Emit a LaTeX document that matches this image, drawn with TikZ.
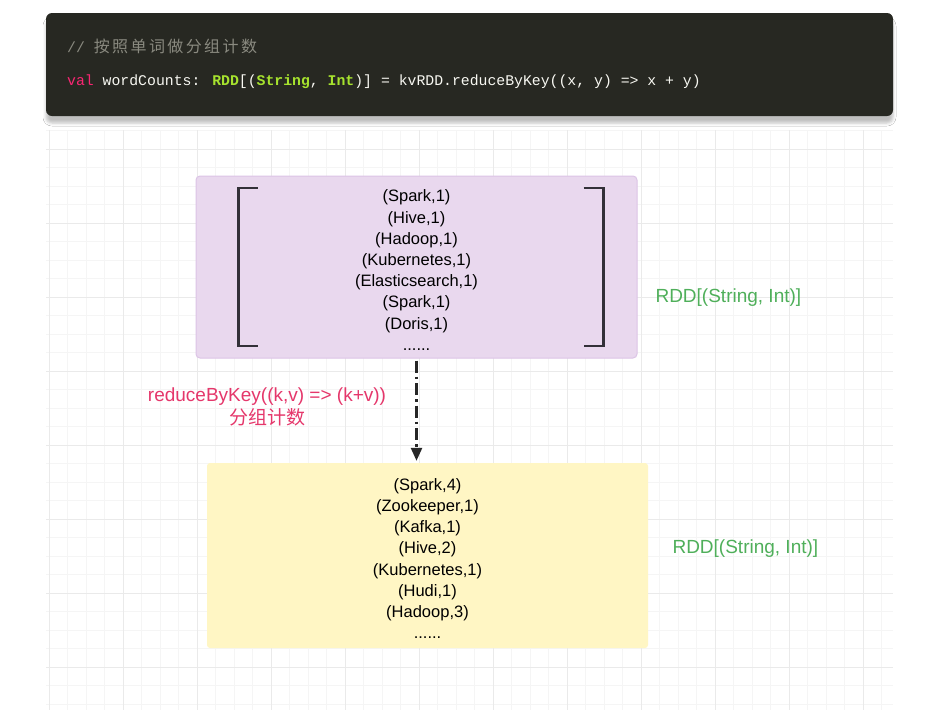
\documentclass[tikz,border=0pt]{standalone}
\usepackage{fontspec}
\setmainfont{Liberation Sans}
\newfontfamily\codefont{Liberation Mono}
\newfontfamily\cjk{Noto Sans CJK SC}
\usetikzlibrary{calc,arrows.meta,shadows.blur}

\definecolor{codebg}{HTML}{272822}
\definecolor{codefg}{HTML}{F8F8F2}
\definecolor{codecomment}{HTML}{8A8A80}
\definecolor{codekw}{HTML}{F92672}
\definecolor{codetype}{HTML}{A6E22E}
\definecolor{gridline}{HTML}{E6E6E6}
\definecolor{pairfill}{HTML}{E9D8EE}
\definecolor{pairdraw}{HTML}{DCC4E6}
\definecolor{countfill}{HTML}{FFF6C4}
\definecolor{typegreen}{HTML}{4FAF5A}
\definecolor{oppink}{HTML}{E5376B}
\definecolor{bracketgray}{HTML}{333038}

\newcommand{\firstline}{\rule{0pt}{18pt}}

\begin{document}
\begin{tikzpicture}[x=1pt,y=-1pt,
  gridminor/.style={draw=gridline!40, line width=0.6pt},
  gridmajor/.style={draw=gridline!85, line width=0.8pt},
  codeblock/.style={fill=codebg, rounded corners=6pt, minimum width=847pt, minimum height=103pt,
    blur shadow={shadow xshift=0pt, shadow yshift=-7pt, shadow blur radius=3pt, shadow opacity=25}},
  codetext/.style={anchor=base west, inner sep=0pt, text=codefg, font=\codefont\fontsize{14.8}{18}\selectfont},
  pairbox/.style={fill=pairfill, draw=pairdraw, line width=1pt, rounded corners=4pt,
    minimum width=441pt, minimum height=182pt, inner sep=0pt, align=center,
    font=\fontsize{16.5}{21.2}\selectfont},
  countbox/.style={fill=countfill, rounded corners=3pt,
    minimum width=441pt, minimum height=185pt, inner sep=0pt, align=center,
    font=\fontsize{16.5}{21.2}\selectfont},
  bracket/.style={draw=bracketgray, line width=2.2pt},
  flow/.style={draw=black!85, line width=2.4pt, dash pattern=on 12pt off 4pt on 2.5pt off 4pt,
    -{Triangle[length=13pt,width=11pt]}},
  typelabel/.style={anchor=west, text=typegreen, font=\fontsize{19}{22}\selectfont},
  oplabel/.style={text=oppink, align=center, font=\fontsize{19}{23}\selectfont}]

\fill[white] (0,0) rectangle (949,718);
\useasboundingbox (0,0) rectangle (949,718);

\foreach \i in {0,...,31} \draw[gridminor] (46,{130.5+18.5*\i}) -- (893,{130.5+18.5*\i});
\foreach \i in {0,...,45} \draw[gridminor] ({49+18.5*\i},130) -- ({49+18.5*\i},710);
\foreach \i in {0,...,7} \draw[gridmajor] (46,{149+74*\i}) -- (893,{149+74*\i});
\foreach \i in {0,...,11} \draw[gridmajor] ({49+74*\i},130) -- ({49+74*\i},710);

\node[codeblock] (codebox) at (469.5,64.5) {};
\node[codetext, text=codecomment] (comment) at (67,52)
  {// {\cjk\fontsize{16}{18}\selectfont\addfontfeature{LetterSpace=15}按照单词做分组计数}};
\node[codetext] (code) at (67,85)
  {{\color{codekw}val} wordCounts: {\color{codetype}\bfseries RDD}[({\color{codetype}\bfseries String}, {\color{codetype}\bfseries Int})] = kvRDD.reduceByKey((x, y) => x + y)};

\node[pairbox] (pairs) at (416.5,267)
  {\firstline(Spark,1)\\(Hive,1)\\(Hadoop,1)\\(Kubernetes,1)\\(Elasticsearch,1)\\(Spark,1)\\(Doris,1)\\......};
\draw[bracket] ($(pairs.west)+(62,-79)$) -- ($(pairs.west)+(43,-79)$)
  -- ($(pairs.west)+(43,79)$) -- ($(pairs.west)+(62,79)$);
\draw[bracket] ($(pairs.east)+(-54,-79)$) -- ($(pairs.east)+(-34,-79)$)
  -- ($(pairs.east)+(-34,79)$) -- ($(pairs.east)+(-54,79)$);

\node[countbox] (counts) at (427.5,555.5)
  {\firstline(Spark,4)\\(Zookeeper,1)\\(Kafka,1)\\(Hive,2)\\(Kubernetes,1)\\(Hudi,1)\\(Hadoop,3)\\......};

\draw[flow, shorten <=2pt, shorten >=2pt] (pairs.south) -- (pairs.south |- counts.north);

\node[oplabel] (op) at (267,407) {reduceByKey((k,v) => (k+v))\\{\cjk 分组计数}};
\node[typelabel] (pairstype) at (652,298) {RDD[(String, Int)]};
\node[typelabel] (countstype) at (669,549) {RDD[(String, Int)]};
\end{tikzpicture}
\end{document}
